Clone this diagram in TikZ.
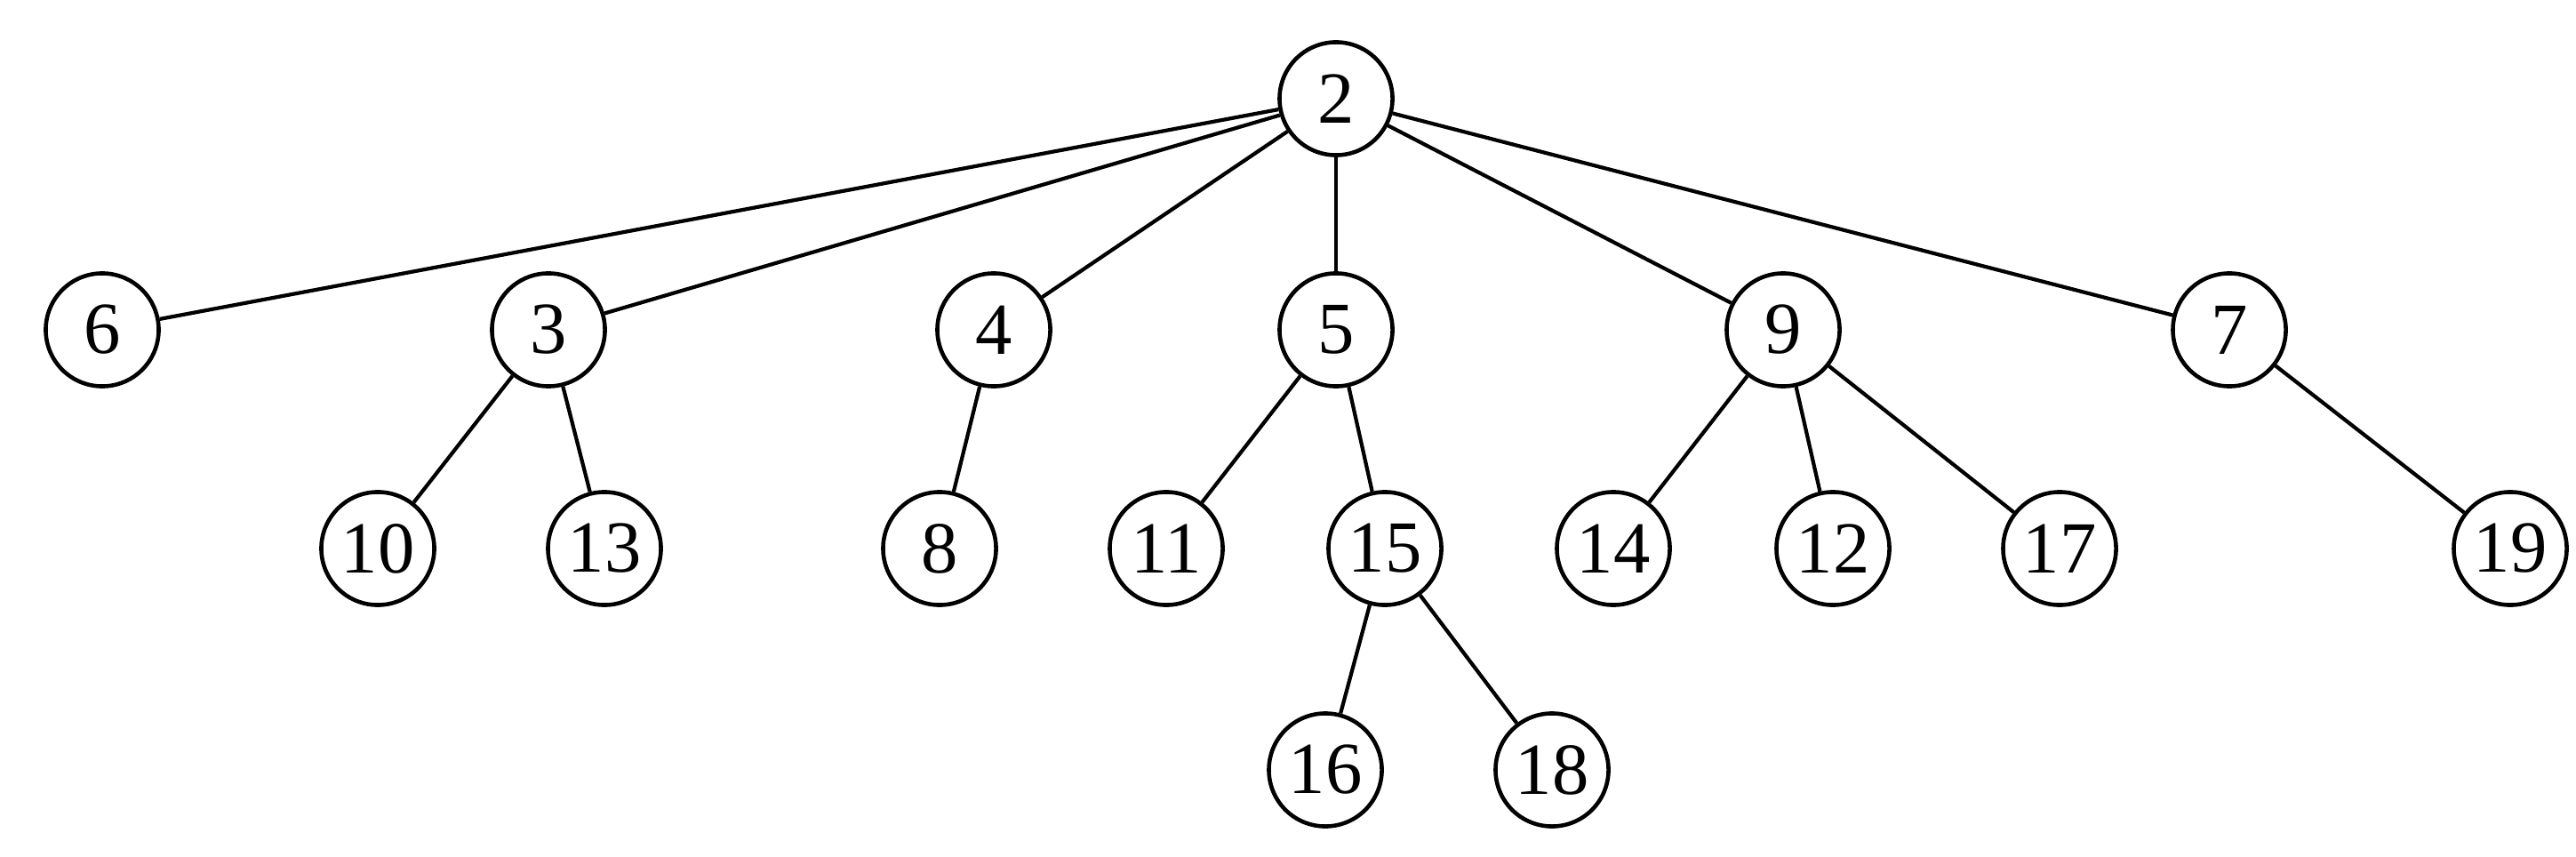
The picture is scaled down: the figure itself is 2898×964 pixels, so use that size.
\documentclass[tikz,border=0pt]{standalone}
\usepackage{fontspec}
\setmainfont{Liberation Serif}
\begin{document}
\begin{tikzpicture}[x=0.01cm,y=-0.01cm,
  vert/.style={circle,draw,line width=1.3pt,minimum size=1.27cm,inner sep=0pt,font=\fontsize{23.5}{23.5}\selectfont},
  edge/.style={line width=1.2pt}]
\useasboundingbox (0,0) rectangle (2898,964);
\node[vert] (n2) at (1503,111) {2};
\node[vert] (n6) at (115,371) {6};
\node[vert] (n3) at (617,371) {3};
\node[vert] (n4) at (1118,371) {4};
\node[vert] (n5) at (1503,371) {5};
\node[vert] (n9) at (2006,371) {9};
\node[vert] (n7) at (2508,371) {7};
\node[vert] (n10) at (425,617) {10};
\node[vert] (n13) at (680,617) {13};
\node[vert] (n8) at (1057,617) {8};
\node[vert] (n11) at (1312,617) {11};
\node[vert] (n15) at (1558,617) {15};
\node[vert] (n14) at (1815,617) {14};
\node[vert] (n12) at (2062,617) {12};
\node[vert] (n17) at (2317,617) {17};
\node[vert] (n19) at (2824,617) {19};
\node[vert] (n16) at (1491,866) {16};
\node[vert] (n18) at (1746,866) {18};
\foreach \a/\b in {n2/n6,n2/n3,n2/n4,n2/n5,n2/n9,n2/n7,n3/n10,n3/n13,n4/n8,n5/n11,n5/n15,n9/n14,n9/n12,n9/n17,n7/n19,n15/n16,n15/n18}
  \draw[edge] (\a) -- (\b);
\end{tikzpicture}
\end{document}
